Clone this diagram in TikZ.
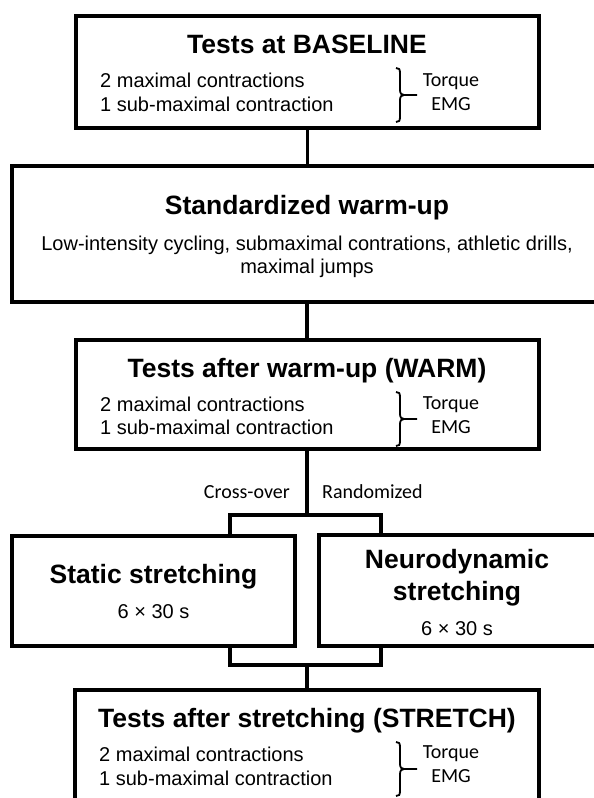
\documentclass[tikz,border=0pt]{standalone}
\usepackage{fontspec}
\setmainfont{Liberation Sans}
\newfontfamily\sidefont{Carlito}
\begin{document}
\begin{tikzpicture}[x=1pt,y=-1pt,
  box/.style={draw=black,line width=4pt,fill=none,inner sep=0pt,outer sep=0pt,rectangle},
  conn/.style={draw=black,line width=3.4pt},
  ttl/.style={anchor=base,inner sep=0pt,font=\fontsize{26.5}{30}\selectfont\bfseries},
  bodytxt/.style={anchor=base west,inner sep=0pt,font=\fontsize{20}{24}\selectfont},
  ctrtxt/.style={anchor=base,inner sep=0pt,font=\fontsize{20}{24}\selectfont},
  side/.style={anchor=base,inner sep=0pt,font=\sidefont\fontsize{20}{24}\selectfont},
  brc/.pic={
    \draw[line width=1.8pt] (-4,-27) .. controls (-1,-27) and (0,-26) .. (0,-22) -- (0,-5) .. controls (0,-1.5) and (1.5,0) .. (4,0) -- (17,0);
    \draw[line width=1.8pt] (-4,27) .. controls (-1,27) and (0,26) .. (0,22) -- (0,5) .. controls (0,1.5) and (1.5,0) .. (4,0);
  }]
\useasboundingbox (0,0) rectangle (594,798);
\fill[white] (0,0) rectangle (594,798);
\clip (0,0) rectangle (594,798);

% boxes
\node[box,minimum width=463pt,minimum height=112pt] (b1) at (307.5,72) {};
\node[box,minimum width=590pt,minimum height=136pt] (warm) at (307,234) {};
\node[box,minimum width=463pt,minimum height=109.5pt] (b3) at (307.5,394.25) {};
\node[box,minimum width=283pt,minimum height=110pt] (stat) at (153.5,591) {};
\node[box,minimum width=278pt,minimum height=111pt] (neuro) at (458,590.5) {};
\node[box,minimum width=464pt,minimum height=112pt] (b6) at (307,746) {};

% box 1
\node[ttl] (t1) at (307,53) {Tests at BASELINE};
\node[bodytxt] (t1a) at (100,87) {2 maximal contractions};
\node[bodytxt] (t1b) at (100,111.5) {1 sub-maximal contraction};
\pic at (400,95) {brc};
\node[side] (t1c) at (451,86) {Torque};
\node[side] (t1d) at (451,110) {EMG};

% warm-up
\node[ttl] (t2) at (307,214) {Standardized warm-up};
\node[ctrtxt] (t2a) at (307,250) {Low-intensity cycling, submaximal contrations, athletic drills,};
\node[ctrtxt] (t2b) at (307,273) {maximal jumps};

% box 3
\node[ttl] (t3) at (307,377) {Tests after warm-up (WARM)};
\node[bodytxt] (t3a) at (100,411) {2 maximal contractions};
\node[bodytxt] (t3b) at (100,434.5) {1 sub-maximal contraction};
\pic at (400,419) {brc};
\node[side] (t3c) at (451,409) {Torque};
\node[side] (t3d) at (451,433) {EMG};

% stretching boxes
\node[ttl] (t4) at (153.5,583) {Static stretching};
\node[ctrtxt] (t4a) at (153.5,618) {6 × 30 s};
\node[ttl] (t5) at (457,568) {Neurodynamic};
\node[ttl] (t5b) at (457,600) {stretching};
\node[ctrtxt] (t5a) at (457,635) {6 × 30 s};

% box 6
\node[ttl] (t6) at (307,727) {Tests after stretching (STRETCH)};
\node[bodytxt] (t6a) at (99,761) {2 maximal contractions};
\node[bodytxt] (t6b) at (99,785) {1 sub-maximal contraction};
\pic at (400,769) {brc};
\node[side] (t6c) at (451,758) {Torque};
\node[side] (t6d) at (451,782) {EMG};

% labels
\node[side,anchor=base east] (lco) at (290,498) {Cross-over};
\node[side,anchor=base west] (lra) at (322,498) {Randomized};

% connectors
\coordinate (sl) at (230,515);
\coordinate (sr) at (381,515);
\coordinate (split) at (307,515);
\coordinate (jl) at (230,665);
\coordinate (jr) at (381,665);
\coordinate (join) at (307,665);

\draw[conn] (b1.south) -- (b1.south |- warm.north);
\draw[conn] (warm.north |- warm.south) -- (warm.south |- b3.north);
\draw[conn] (b3.south -| split) -- (split);
\draw[conn] (sl |- stat.north) -- (sl) -- (sr) -- (sr |- neuro.north);
\draw[conn] (jl |- stat.south) -- (jl) -- (jr) -- (jr |- neuro.south);
\draw[conn] (join) -- (join |- b6.north);
\end{tikzpicture}
\end{document}
